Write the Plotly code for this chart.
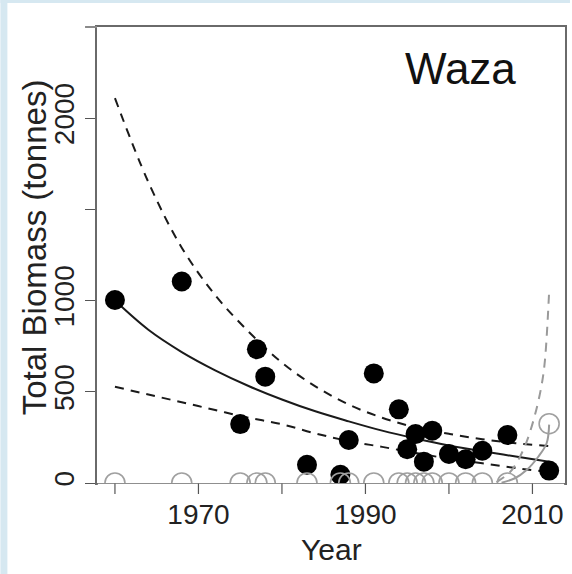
import plotly.graph_objects as go

# ---- data ----
obs_years = [1960, 1968, 1975, 1977, 1978, 1983, 1987, 1988, 1991, 1994,
             1995, 1996, 1997, 1998, 2000, 2002, 2004, 2007, 2012]
obs_biomass = [1003, 1105, 323, 733, 583, 100, 45, 236, 601, 404,
               185, 268, 117, 287, 159, 130, 177, 263, 68]

grey_years = [1960, 1968, 1975, 1977, 1978, 1983, 1987, 1988, 1991, 1994,
              1995, 1996, 1997, 1998, 2000, 2002, 2004, 2007, 2012]
grey_biomass = [0, 0, 0, 0, 0, 0, 0, 0, 0, 0,
                0, 0, 0, 0, 0, 0, 0, 0, 325]

fit_years = [1960, 1964, 1968, 1972, 1976, 1980, 1984, 1988, 1992, 1996,
             2000, 2004, 2008, 2012]
fit_mid = [1000, 840, 718, 618, 532, 458, 393, 338, 287, 244, 206, 174, 145, 117]
fit_upper = [2110, 1650, 1290, 1030, 830, 660, 530, 430, 358, 305, 270, 240, 218, 203]
fit_lower = [528, 485, 443, 400, 358, 322, 272, 230, 198, 165, 133, 108, 82, 60]

grey_fit_years = [2006.3, 2007.9, 2009.3, 2010.7, 2011.7, 2012]
grey_fit = [2, 26, 71, 144, 218, 320]
grey_up_years = [2005.7, 2007.3, 2008.3, 2009.3, 2010.3, 2011.1, 2011.5, 2012]
grey_up = [5, 59, 126, 226, 373, 537, 674, 1050]

x_ticks = [1960, 1970, 1980, 1990, 2000, 2010]
x_ticklabels = ["", "1970", "", "1990", "", "2010"]
y_ticks = [0, 500, 1000, 1500, 2000]
y_ticklabels = ["0", "500", "1000", "", "2000"]

FONT = "Liberation Sans, Arial, sans-serif"
DASH = "9px,7px"
TICK_COLOR = "#555555"

fig = go.Figure()

fig.add_trace(go.Scatter(x=fit_years, y=fit_upper, mode="lines",
                         line=dict(color="#1a1a1a", width=2, dash=DASH, shape="spline")))
fig.add_trace(go.Scatter(x=fit_years, y=fit_lower, mode="lines",
                         line=dict(color="#1a1a1a", width=2, dash=DASH, shape="spline")))
fig.add_trace(go.Scatter(x=fit_years, y=fit_mid, mode="lines",
                         line=dict(color="#1a1a1a", width=2, shape="spline")))
fig.add_trace(go.Scatter(x=grey_up_years, y=grey_up, mode="lines",
                         line=dict(color="#9a9a9a", width=2, dash=DASH, shape="spline")))
fig.add_trace(go.Scatter(x=grey_fit_years, y=grey_fit, mode="lines",
                         line=dict(color="#9a9a9a", width=2, shape="spline")))
fig.add_trace(go.Scatter(x=obs_years, y=obs_biomass, mode="markers",
                         marker=dict(symbol="circle", size=20, color="black",
                                     line=dict(width=0))))
fig.add_trace(go.Scatter(x=grey_years, y=grey_biomass, mode="markers",
                         marker=dict(symbol="circle-open", size=20, color="#a0a0a0",
                                     line=dict(width=1.6, color="#a0a0a0"))))

W, H = 572, 574
L, R, T, B = 97, 5, 27, 91
pw, ph = W - L - R, H - T - B


def px_x(x):
    return (x - L) / pw


def px_y(y):
    return (H - B - y) / ph


shapes = [
    dict(type="rect", xref="paper", yref="paper", x0=px_x(0), x1=px_x(7),
         y0=px_y(H), y1=px_y(0), fillcolor="#d6e8f1", line=dict(width=0),
         layer="below"),
    dict(type="rect", xref="paper", yref="paper", x0=px_x(0), x1=px_x(W),
         y0=px_y(3), y1=px_y(0), fillcolor="#d6e8f1", line=dict(width=0),
         layer="below"),
    dict(type="line", xref="paper", yref="paper", x0=px_x(85), x1=px_x(97),
         y0=1, y1=1, line=dict(color="#8a8a8a", width=2)),
    # mask: clip markers to the plotting region (like R's clipping)
    dict(type="rect", xref="paper", yref="paper", x0=px_x(97.8), x1=px_x(566.2),
         y0=px_y(496), y1=px_y(483.8), fillcolor="white", line=dict(width=0),
         layer="above"),
]
# redraw x ticks on top of the mask
for tv in x_ticks:
    shapes.append(dict(type="line", xref="x", yref="paper", x0=tv, x1=tv,
                       y0=px_y(483.5), y1=px_y(494),
                       line=dict(color=TICK_COLOR, width=1.2), layer="above"))

fig.update_layout(
    width=W, height=H,
    margin=dict(l=L, r=R, t=T, b=B, pad=0),
    paper_bgcolor="white", plot_bgcolor="white",
    showlegend=False,
    font=dict(family=FONT, color="#222222"),
    xaxis=dict(range=[1957.85, 2013.9], tickmode="array", tickvals=x_ticks,
               ticktext=x_ticklabels, ticks="outside", ticklen=11, tickwidth=1.2,
               tickcolor=TICK_COLOR, showgrid=False, zeroline=False,
               showline=True, linecolor="#6a6a6a", linewidth=1.5, mirror=True,
               ticklabelstandoff=-5,
               tickfont=dict(size=28, family=FONT, color="#222222")),
    yaxis=dict(range=[0, 2500], tickmode="array", tickvals=y_ticks,
               ticktext=y_ticklabels, ticks="outside", ticklen=10, tickwidth=1.2,
               tickcolor=TICK_COLOR, showgrid=False, zeroline=False,
               showline=True, linecolor="#6a6a6a", linewidth=1.5, mirror=True,
               tickangle=-90,
               tickfont=dict(size=28, family=FONT, color="#222222")),
    shapes=shapes,
    annotations=[
        dict(text="Waza", xref="paper", yref="paper", x=px_x(462), y=px_y(68),
             xanchor="center", yanchor="middle",
             showarrow=False, font=dict(size=44, family=FONT, color="#111111")),
        dict(text="Year", xref="paper", yref="paper", x=px_x(332), y=px_y(549),
             xanchor="center", yanchor="middle",
             showarrow=False, font=dict(size=30, family=FONT, color="#222222")),
        dict(text="Total Biomass (tonnes)", xref="paper", yref="paper",
             x=px_x(35), y=px_y(247), textangle=-90,
             xanchor="center", yanchor="middle",
             showarrow=False, font=dict(size=33, family=FONT, color="#222222")),
    ],
)

fig.write_html("out.html", config={"displayModeBar": False},
               post_script="document.body.style.margin='0';document.body.style.overflow='hidden';")
